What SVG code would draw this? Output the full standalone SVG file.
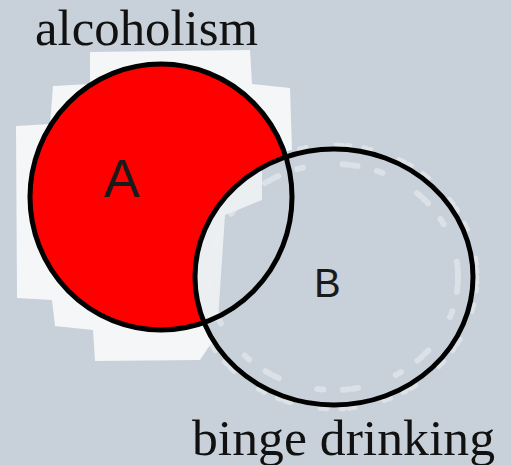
<svg xmlns="http://www.w3.org/2000/svg" width="511" height="465" viewBox="0 0 511 465">
<style>
.lbl{font-family:"Liberation Serif","Times New Roman",serif;font-size:50px;fill:#111}
.let{font-family:"Liberation Sans",Arial,sans-serif;fill:#1a1a1a}
.ring{fill:none;stroke:#000;stroke-width:5}
.speck{fill:none;stroke:#eef1f3;stroke-linecap:round}
</style>
<defs>
<clipPath id="clipB"><ellipse cx="334" cy="277" rx="139" ry="128"/></clipPath>
</defs>
<rect width="511" height="465" fill="#c8d1d9"/>
<g id="backdrop">
<path d="M90,52 L250,50 L252,84 L290,88 L292,150 L250,160 L230,330 L210,345 L200,360 L95,361 L93,330 L55,326 L52,300 L17,298 L16,126 L50,124 L53,86 L90,84 Z" fill="#f4f6f7"/>
<ellipse class="speck" cx="334" cy="277" rx="143" ry="132" stroke-width="5" stroke-dasharray="2 3 1 5 3 14 2 4 1 30" opacity="0.55"/>
<ellipse class="speck" cx="334" cy="277" rx="124" ry="113" stroke-width="6" stroke-dasharray="2 2 1 4 2 3 1 20 2 3 1 40" opacity="0.5"/>
</g>
<g id="nodeA">
<ellipse cx="161" cy="197" rx="131" ry="133" fill="#fe0000"/>
</g>
<g id="nodeB">
<ellipse cx="334" cy="277" rx="139" ry="128" fill="#c8d1d9"/>
<g clip-path="url(#clipB)">
<path d="M190,210 L230,185 L262,168 L262,200 L225,215 L218,320 L195,330 Z" fill="#f1f4f6" opacity="0.85"/>
<ellipse class="speck" cx="334" cy="277" rx="124" ry="113" stroke-width="6" stroke-dasharray="2 2 1 4 2 3 1 20 2 3 1 40" opacity="0.5"/>
</g>
</g>
<g id="outlines">
<ellipse class="ring" cx="161" cy="197" rx="131" ry="133"/>
<ellipse class="ring" cx="334" cy="277" rx="139" ry="128"/>
</g>
<text class="let" x="104" y="197" font-size="54">A</text>
<text class="let" x="314" y="297" font-size="40">B</text>
<text id="label-alcoholism" class="lbl" x="35" y="45" textLength="223" lengthAdjust="spacingAndGlyphs">alcoholism</text>
<text id="label-binge" class="lbl" x="192" y="455" textLength="303" lengthAdjust="spacingAndGlyphs">binge drinking</text>
</svg>
